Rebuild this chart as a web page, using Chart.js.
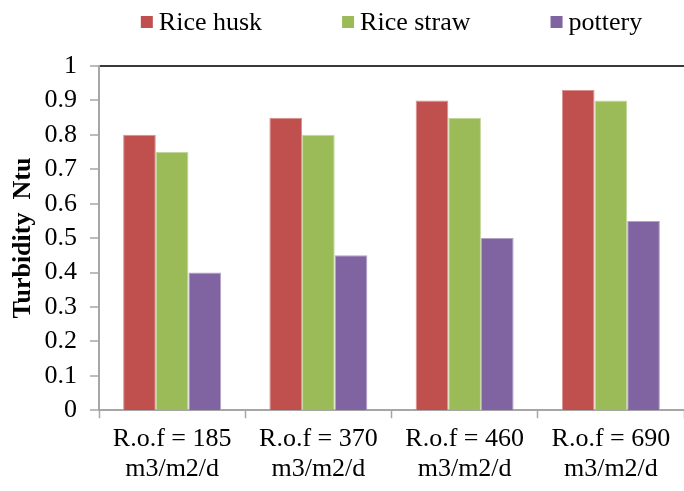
<!DOCTYPE html>
<html>
<head>
<meta charset="utf-8">
<script src="https://cdn.jsdelivr.net/npm/chart.js@4/dist/chart.umd.min.js"></script>
<style>
  html, body { margin: 0; padding: 0; background: #fff; }
  #wrap { width: 684px; height: 491px; position: relative; }
</style>
</head>
<body>
<div id="wrap"><canvas id="c"></canvas></div>
<script>
const categories = [
  ["R.o.f = 185", "m3/m2/d"],
  ["R.o.f = 370", "m3/m2/d"],
  ["R.o.f = 460", "m3/m2/d"],
  ["R.o.f = 690", "m3/m2/d"]
];
const seriesNames = ["Rice husk", "Rice straw", "pottery"];
const riceHusk = [0.80, 0.85, 0.90, 0.93];
const riceStraw = [0.75, 0.80, 0.85, 0.90];
const pottery = [0.40, 0.45, 0.50, 0.55];
const yTitle = "Turbidity  Ntu";

const colors = ["#C0504D", "#9BBB59", "#8064A2"];
const borders = ["#D9908E", "#C3D69B", "#B3A2C7"];
const FONT = "'Liberation Serif', 'Times New Roman', serif";

const legendPlugin = {
  id: 'customLegend',
  afterDraw(chart) {
    const ctx = chart.ctx;
    const area = chart.chartArea;
    ctx.save();
    ctx.font = "26px " + FONT;
    ctx.textBaseline = "middle";
    const box = 12, gapText = 6, gapItem = 80;
    const items = chart.data.datasets.map(d => ({
      label: d.label, color: d.backgroundColor, w: ctx.measureText(d.label).width
    }));
    let total = 0;
    items.forEach((it, i) => { total += box + gapText + it.w + (i ? gapItem : 0); });
    let x = (area.left + area.right) / 2 - total / 2;
    const y = 22;
    items.forEach(it => {
      ctx.fillStyle = it.color;
      ctx.fillRect(x, y - box / 2, box, box);
      ctx.fillStyle = "#000";
      ctx.fillText(it.label, x + box + gapText, y + 1);
      x += box + gapText + it.w + gapItem;
    });
    ctx.restore();
  }
};

const data = {
  labels: categories,
  datasets: [riceHusk, riceStraw, pottery].map((vals, i) => ({
    label: seriesNames[i],
    data: vals,
    backgroundColor: colors[i],
    borderColor: borders[i],
    borderWidth: 1,
    categoryPercentage: 0.67,
    barPercentage: 1.0
  }))
};

new Chart(document.getElementById('c'), {
  type: 'bar',
  data: data,
  plugins: [legendPlugin],
  options: {
    responsive: true,
    maintainAspectRatio: false,
    animation: false,
    layout: { padding: { top: 66, left: 4, right: 0, bottom: 1 } },
    plugins: {
      legend: { display: false },
      tooltip: { enabled: false }
    },
    scales: {
      x: {
        grid: {
          drawOnChartArea: false,
          drawTicks: true,
          tickLength: 8,
          tickColor: "#A6A6A6",
          tickWidth: 1.5
        },
        border: { color: "#A6A6A6", width: 2 },
        ticks: {
          color: "#000",
          font: { family: FONT, size: 26, lineHeight: 1.15 },
          padding: 6,
          maxRotation: 0,
          autoSkip: false
        }
      },
      y: {
        min: 0,
        max: 1,
        afterFit: scale => { scale.width = 95; },
        ticks: {
          stepSize: 0.1,
          autoSkip: false,
          color: "#000",
          font: { family: FONT, size: 26 },
          padding: 13,
          callback: v => String(Math.round(v * 10) / 10)
        },
        grid: {
          drawTicks: true,
          tickLength: 9,
          tickColor: "#A6A6A6",
          tickWidth: 1.5,
          color: ctx => (ctx.tick && Math.abs(ctx.tick.value - 1) < 1e-9) ? "#3A3A3A" : "rgba(0,0,0,0)",
          lineWidth: ctx => (ctx.tick && Math.abs(ctx.tick.value - 1) < 1e-9) ? 2 : 0
        },
        border: { color: "#A6A6A6", width: 2 },
        title: {
          display: true,
          text: yTitle,
          color: "#000",
          font: { family: FONT, size: 26, weight: 'bold' },
          padding: { top: 4, bottom: 4 }
        }
      }
    }
  }
});
</script>
</body>
</html>
